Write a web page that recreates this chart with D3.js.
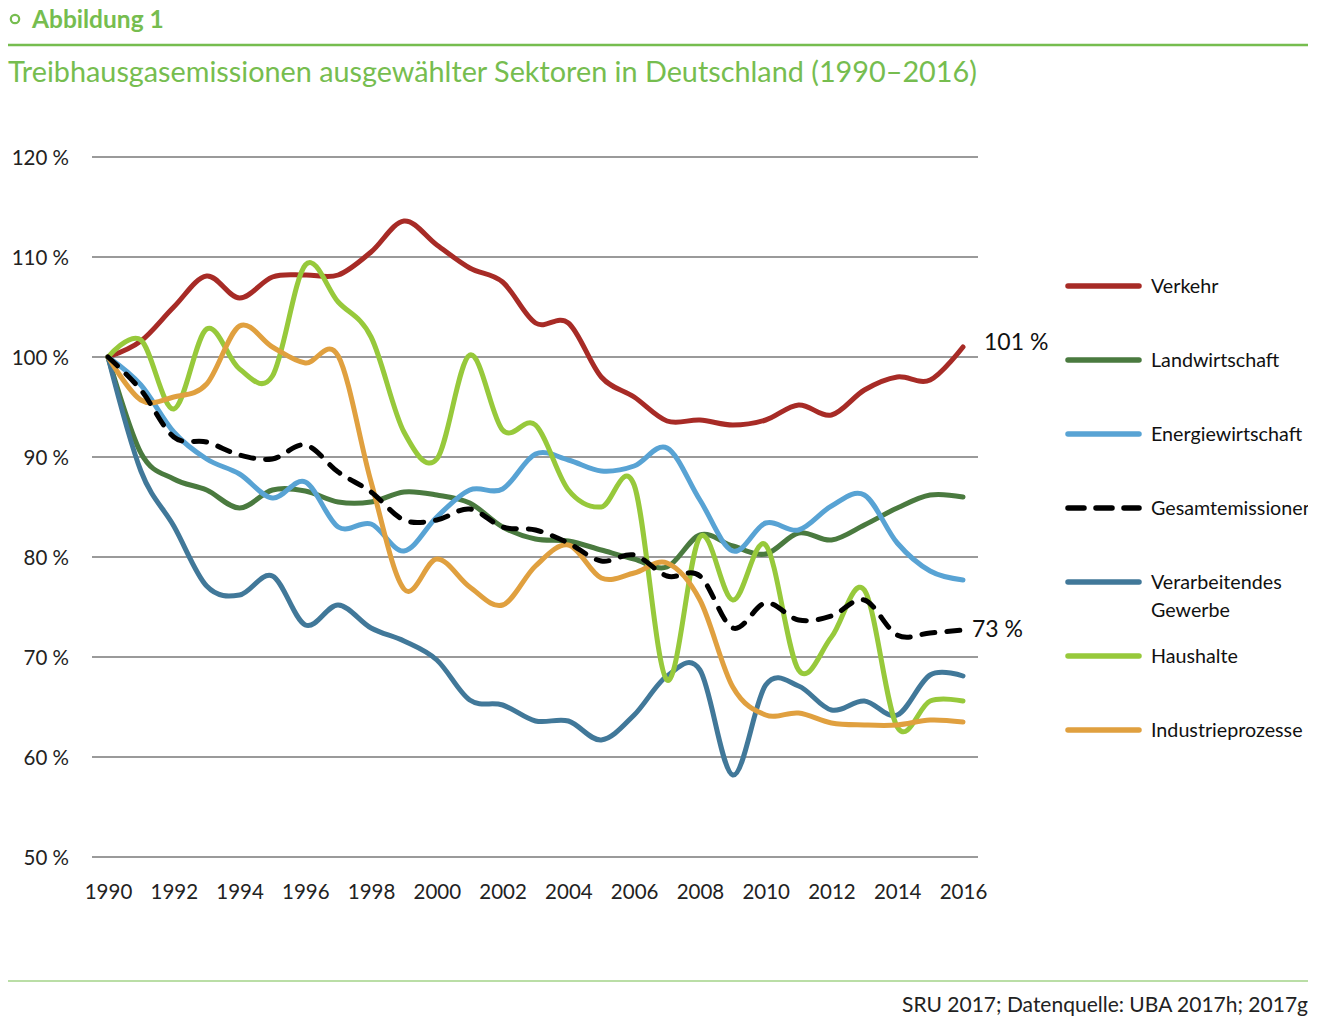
<!DOCTYPE html>
<html>
<head>
<meta charset="utf-8">
<script src="https://cdn.jsdelivr.net/npm/d3@7"></script>
<style>
  body { margin: 0; background: #ffffff; font-family: Lato, "Open Sans", sans-serif; }
</style>
</head>
<body>
<div id="chart"></div>
<script>
var years = [1990, 1991, 1992, 1993, 1994, 1995, 1996, 1997, 1998, 1999, 2000, 2001, 2002, 2003,
  2004, 2005, 2006, 2007, 2008, 2009, 2010, 2011, 2012, 2013, 2014, 2015, 2016];

var verkehr = [100, 101.6, 105, 108.1, 105.9, 108, 108.2, 108.2, 110.5, 113.6, 111.2, 108.9, 107.5, 103.4,
  103.4, 98, 96, 93.6, 93.7, 93.2, 93.7, 95.2, 94.2, 96.7, 98, 97.7, 101];
var landwirtschaft = [100, 90.4, 87.8, 86.7, 84.9, 86.7, 86.6, 85.5, 85.5, 86.5, 86.2, 85.4, 83, 81.8,
  81.6, 80.7, 79.8, 79, 82.2, 81.1, 80.3, 82.4, 81.7, 83.2, 84.9, 86.2, 86];
var energie = [100, 97.2, 92.5, 89.8, 88.3, 85.9, 87.5, 83, 83.3, 80.6, 84, 86.7, 86.8, 90.3,
  89.7, 88.6, 89.1, 90.9, 85.7, 80.6, 83.4, 82.7, 85.1, 86.2, 81.4, 78.6, 77.7];
var gesamt = [100, 96.7, 92, 91.5, 90.2, 89.8, 91.2, 88.5, 86.5, 83.7, 83.7, 84.8, 83, 82.7,
  81.4, 79.6, 80.2, 78.1, 78.1, 72.9, 75.4, 73.7, 74.1, 75.7, 72.2, 72.4, 72.7];
var verarbeitend = [100, 88.6, 83.1, 77.1, 76.2, 78.1, 73.2, 75.2, 72.9, 71.6, 69.7, 65.7, 65.2, 63.6,
  63.6, 61.7, 64.2, 68.1, 68.7, 58.2, 67.2, 67.1, 64.7, 65.6, 64.2, 68.2, 68.1];
var haushalte = [100, 101.7, 94.8, 102.8, 98.8, 98.1, 109.2, 105.5, 102, 92.5, 89.8, 100.2, 92.7, 93.2,
  86.7, 85, 87.2, 67.7, 82, 75.7, 81.2, 68.7, 72, 76.7, 63, 65.6, 65.6];
var industrie = [100, 95.7, 96, 97.3, 103.1, 101, 99.4, 100.1, 87.5, 76.8, 79.8, 77, 75.2, 79.1,
  81.2, 77.9, 78.4, 79.4, 75.7, 67, 64.2, 64.4, 63.4, 63.2, 63.2, 63.7, 63.5];

var sectorNames = ["Verkehr", "Landwirtschaft", "Energiewirtschaft", "Gesamtemissionen",
  "Verarbeitendes Gewerbe", "Haushalte", "Industrieprozesse"];
var sectorColors = ["#a72b26", "#4a7a3f", "#58a3d4", "#000000", "#417899", "#97c93b", "#e0a03f"];
var yTicks = [50, 60, 70, 80, 90, 100, 110, 120];
var xTickYears = [1990, 1992, 1994, 1996, 1998, 2000, 2002, 2004, 2006, 2008, 2010, 2012, 2014, 2016];

var series = [verkehr, landwirtschaft, energie, gesamt, verarbeitend, haushalte, industrie].map(function (vals, i) {
  return { name: sectorNames[i], color: sectorColors[i], values: vals, dashed: i === 3 };
});

var width = 1330, height = 1028;
var green = "#76bd4f";

var svg = d3.select("#chart").append("svg")
  .attr("width", width)
  .attr("height", height)
  .attr("viewBox", [0, 0, width, height]);

svg.append("defs").append("clipPath").attr("id", "page-clip")
  .append("rect").attr("x", 0).attr("y", 0).attr("width", 1308).attr("height", height);

// Header
svg.append("circle").attr("cx", 15).attr("cy", 19).attr("r", 4.2)
  .attr("fill", "none").attr("stroke", green).attr("stroke-width", 2.2);
svg.append("text").attr("x", 32).attr("y", 28)
  .text("Abbildung 1")
  .attr("font-size", "24.5px").attr("font-weight", 700).attr("fill", green);
svg.append("line").attr("x1", 8).attr("x2", 1308).attr("y1", 45).attr("y2", 45)
  .attr("stroke", green).attr("stroke-width", 2.5);
svg.append("text").attr("x", 8).attr("y", 82)
  .text("Treibhausgasemissionen ausgewählter Sektoren in Deutschland (1990–2016)")
  .attr("font-size", "28.8px").attr("fill", green);

// Scales
var x = d3.scaleLinear().domain([1990, 2016]).range([108, 963]);
var y = d3.scaleLinear().domain([50, 120]).range([857, 157]);

// Grid
svg.append("g")
  .selectAll("line")
  .data(yTicks)
  .enter()
  .append("line")
  .attr("x1", 92).attr("x2", 978)
  .attr("y1", (d) => y(d)).attr("y2", (d) => y(d))
  .attr("stroke", "#9a9a9a").attr("stroke-width", 2);

var y_axis = d3.axisLeft(y).tickValues(yTicks).tickSize(0).tickPadding(0)
  .tickFormat((d) => d + " %");
svg.append("g")
  .attr("transform", "translate(69,1)")
  .call(y_axis)
  .call((g) => g.select(".domain").remove())
  .selectAll("text")
  .attr("font-family", "Lato, sans-serif")
  .attr("font-size", "20.5px")
  .attr("fill", "#222");

var x_axis = d3.axisBottom(x).tickValues(xTickYears).tickSize(0).tickPadding(0)
  .tickFormat(d3.format("d"));
svg.append("g")
  .attr("transform", "translate(0,884)")
  .call(x_axis)
  .call((g) => g.select(".domain").remove())
  .selectAll("text")
  .attr("font-family", "Lato, sans-serif")
  .attr("font-size", "20.5px")
  .attr("fill", "#222");

// Lines (Gesamt drawn last)
var line = d3.line()
  .x((d, i) => x(years[i]))
  .y((d) => y(d))
  .curve(d3.curveCardinal.tension(0));

var drawOrder = series.filter((s) => !s.dashed).concat(series.filter((s) => s.dashed));
svg.append("g")
  .selectAll("path")
  .data(drawOrder)
  .enter()
  .append("path")
  .attr("d", (d) => line(d.values))
  .attr("fill", "none")
  .attr("stroke", (d) => d.color)
  .attr("stroke-width", 5)
  .attr("stroke-linecap", "round")
  .attr("stroke-linejoin", "round")
  .attr("stroke-dasharray", (d) => (d.dashed ? "13,12" : null));

// End labels
svg.append("text").attr("x", 984).attr("y", y(verkehr[26]) + 3)
  .text("101 %").attr("font-size", "23px").attr("fill", "#111");
svg.append("text").attr("x", 972).attr("y", y(gesamt[26]) + 7)
  .text("73 %").attr("font-size", "23px").attr("fill", "#111");

// Legend
var legendY = [286, 360, 434, 508, 582, 656, 730];
var legend = svg.append("g").attr("clip-path", "url(#page-clip)")
  .selectAll("g")
  .data(series)
  .enter()
  .append("g")
  .attr("transform", (d, i) => "translate(0," + legendY[i] + ")");

legend.append("line")
  .attr("x1", 1068).attr("x2", 1139)
  .attr("stroke", (d) => d.color)
  .attr("stroke-width", 5.5)
  .attr("stroke-linecap", "round")
  .attr("stroke-dasharray", (d) => (d.dashed ? "16,12" : null));

legend.append("text")
  .attr("x", 1151)
  .attr("font-size", "19.7px")
  .attr("fill", "#111")
  .each(function (d) {
    var words = d.name === "Verarbeitendes Gewerbe" ? ["Verarbeitendes", "Gewerbe"] : [d.name];
    d3.select(this).selectAll("tspan")
      .data(words)
      .enter()
      .append("tspan")
      .attr("x", 1151)
      .attr("y", (w, j) => 7 + j * 28)
      .text((w) => w);
  });

// Footer
svg.append("line").attr("x1", 8).attr("x2", 1308).attr("y1", 981).attr("y2", 981)
  .attr("stroke", green).attr("stroke-width", 1.2);
svg.append("text").attr("x", 1308).attr("y", 1012)
  .attr("text-anchor", "end")
  .text("SRU 2017; Datenquelle: UBA 2017h; 2017g")
  .attr("font-size", "21px").attr("fill", "#222");
</script>
</body>
</html>
